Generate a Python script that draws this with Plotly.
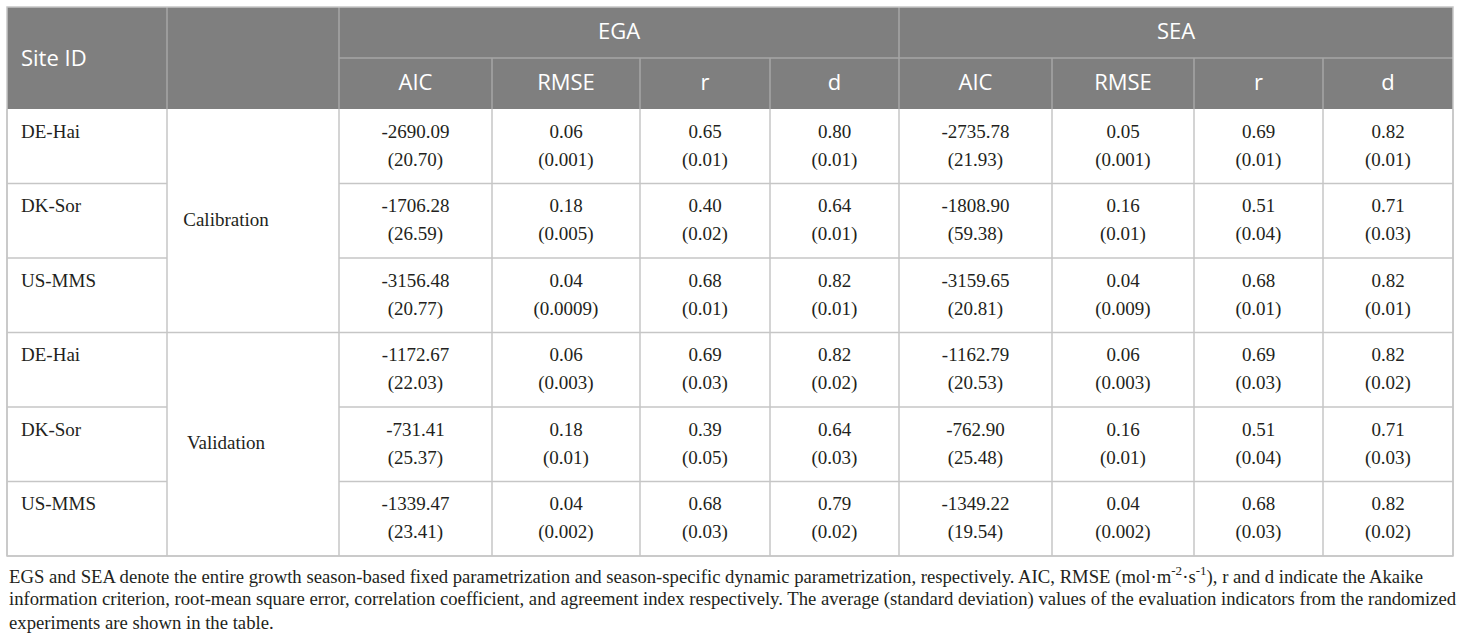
import plotly.graph_objects as go

# ---- table content ----
SITES = ["DE-Hai", "DK-Sor", "US-MMS", "DE-Hai", "DK-Sor", "US-MMS"]
PHASES = ["Calibration", "Validation"]
SCHEMES = ["EGA", "SEA"]
METRICS = ["AIC", "RMSE", "r", "d"]

# mean values per row (AIC, RMSE, r, d), kept as printed
ega_mean = [
    ["-2690.09", "0.06", "0.65", "0.80"],
    ["-1706.28", "0.18", "0.40", "0.64"],
    ["-3156.48", "0.04", "0.68", "0.82"],
    ["-1172.67", "0.06", "0.69", "0.82"],
    ["-731.41", "0.18", "0.39", "0.64"],
    ["-1339.47", "0.04", "0.68", "0.79"],
]
ega_sd = [
    ["20.70", "0.001", "0.01", "0.01"],
    ["26.59", "0.005", "0.02", "0.01"],
    ["20.77", "0.0009", "0.01", "0.01"],
    ["22.03", "0.003", "0.03", "0.02"],
    ["25.37", "0.01", "0.05", "0.03"],
    ["23.41", "0.002", "0.03", "0.02"],
]
sea_mean = [
    ["-2735.78", "0.05", "0.69", "0.82"],
    ["-1808.90", "0.16", "0.51", "0.71"],
    ["-3159.65", "0.04", "0.68", "0.82"],
    ["-1162.79", "0.06", "0.69", "0.82"],
    ["-762.90", "0.16", "0.51", "0.71"],
    ["-1349.22", "0.04", "0.68", "0.82"],
]
sea_sd = [
    ["21.93", "0.001", "0.01", "0.01"],
    ["59.38", "0.01", "0.04", "0.03"],
    ["20.81", "0.009", "0.01", "0.01"],
    ["20.53", "0.003", "0.03", "0.02"],
    ["25.48", "0.01", "0.04", "0.03"],
    ["19.54", "0.002", "0.03", "0.02"],
]

CAPTION = [
    "EGS and SEA denote the entire growth season-based fixed parametrization and season-specific dynamic "
    "parametrization, respectively. AIC, RMSE (mol·m<sup>-2</sup>·s<sup>-1</sup>), r and d indicate the Akaike",
    "information criterion, root-mean square error, correlation coefficient, and agreement index respectively. "
    "The average (standard deviation) values of the evaluation indicators from the randomized",
    "experiments are shown in the table.",
]

# ---- layout geometry (pixels) ----
W, H = 1460, 641
COL_EDGES = [7, 167, 339, 492, 640, 770, 899, 1052, 1194, 1323, 1453]
HEAD_TOP, HEAD_MID, HEAD_BOT = 7, 58, 109
ROW_H = 74.5
TABLE_BOT = HEAD_BOT + ROW_H * len(SITES)

HEAD_BG = "#7f7f7f"
HEAD_LINE = "#a6a6a6"
GRID = "#c6c6c6"
TXT = "#231f20"
SANS = "Open Sans"
SERIF = "Liberation Serif"

fig = go.Figure()

# header background
fig.add_shape(type="rect", x0=COL_EDGES[0], x1=COL_EDGES[-1], y0=HEAD_TOP, y1=HEAD_BOT,
              fillcolor=HEAD_BG, line=dict(width=0), layer="below")

# header inner lines
fig.add_shape(type="line", x0=COL_EDGES[2], x1=COL_EDGES[-1], y0=HEAD_MID, y1=HEAD_MID,
              line=dict(color=HEAD_LINE, width=1.5))
for i, xe in enumerate(COL_EDGES[1:-1], start=1):
    y0 = HEAD_TOP if i in (1, 2, 6) else HEAD_MID
    fig.add_shape(type="line", x0=xe, x1=xe, y0=y0, y1=HEAD_BOT,
                  line=dict(color=HEAD_LINE, width=1.5))

# body grid
row_edges = [HEAD_BOT + ROW_H * k for k in range(len(SITES) + 1)]
for k, ye in enumerate(row_edges[1:-1], start=1):
    # site column + data columns; phase column only split between groups
    fig.add_shape(type="line", x0=COL_EDGES[0], x1=COL_EDGES[1], y0=ye, y1=ye,
                  line=dict(color=GRID, width=1.5))
    fig.add_shape(type="line", x0=COL_EDGES[2], x1=COL_EDGES[-1], y0=ye, y1=ye,
                  line=dict(color=GRID, width=1.5))
    if k == 3:
        fig.add_shape(type="line", x0=COL_EDGES[1], x1=COL_EDGES[2], y0=ye, y1=ye,
                      line=dict(color=GRID, width=1.5))
for xe in COL_EDGES:
    fig.add_shape(type="line", x0=xe, x1=xe, y0=HEAD_BOT, y1=TABLE_BOT,
                  line=dict(color=GRID, width=1.5))
fig.add_shape(type="line", x0=COL_EDGES[0], x1=COL_EDGES[-1], y0=TABLE_BOT, y1=TABLE_BOT,
              line=dict(color=GRID, width=1.5))
fig.add_shape(type="rect", x0=COL_EDGES[0], x1=COL_EDGES[-1], y0=HEAD_TOP, y1=TABLE_BOT,
              line=dict(color=GRID, width=1.5))

# ---- header text ----
mid = lambda a, b: (a + b) / 2
fig.add_trace(go.Scatter(
    x=[COL_EDGES[0] + 14], y=[mid(HEAD_TOP, HEAD_BOT) + 2], mode="text",
    text=["Site ID"], textposition="middle right",
    textfont=dict(family=SANS, size=22, color="white"),
))
fig.add_trace(go.Scatter(
    x=[mid(COL_EDGES[2], COL_EDGES[6]), mid(COL_EDGES[6], COL_EDGES[10])],
    y=[mid(HEAD_TOP, HEAD_MID) + 1] * 2, mode="text",
    text=SCHEMES, textposition="middle center",
    textfont=dict(family=SANS, size=22, color="white"),
))
fig.add_trace(go.Scatter(
    x=[mid(COL_EDGES[j], COL_EDGES[j + 1]) for j in range(2, 10)],
    y=[mid(HEAD_MID, HEAD_BOT) + 1] * 8, mode="text",
    text=METRICS * 2, textposition="middle center",
    textfont=dict(family=SANS, size=22, color="white"),
))

# ---- body text ----
line1 = [row_edges[k] + 24 for k in range(len(SITES))]
line2 = [row_edges[k] + 52 for k in range(len(SITES))]

fig.add_trace(go.Scatter(
    x=[COL_EDGES[0] + 14] * len(SITES), y=line1, mode="text",
    text=SITES, textposition="middle right",
    textfont=dict(family=SERIF, size=19, color=TXT),
))
fig.add_trace(go.Scatter(
    x=[226, 226],
    y=[mid(row_edges[0], row_edges[3]), mid(row_edges[3], row_edges[6])],
    mode="text", text=PHASES, textposition="middle center",
    textfont=dict(family=SERIF, size=19, color=TXT),
))

for block, (means, sds) in enumerate([(ega_mean, ega_sd), (sea_mean, sea_sd)]):
    xs, ys, ts = [], [], []
    for r in range(len(SITES)):
        for j in range(4):
            c = 2 + block * 4 + j
            xc = mid(COL_EDGES[c], COL_EDGES[c + 1])
            xs += [xc, xc]
            ys += [line1[r], line2[r]]
            ts += [means[r][j], f"({sds[r][j]})"]
    fig.add_trace(go.Scatter(
        x=xs, y=ys, mode="text", text=ts, textposition="middle center",
        textfont=dict(family=SERIF, size=19, color=TXT),
    ))

# ---- caption ----
for i, line in enumerate(CAPTION):
    fig.add_annotation(
        x=COL_EDGES[0], y=TABLE_BOT + 19 + i * 23.5, xref="x", yref="y",
        text=line, showarrow=False, xanchor="left", yanchor="middle",
        font=dict(family=SERIF, size=18.7, color=TXT),
    )

fig.update_layout(
    width=W, height=H,
    margin=dict(l=0, r=0, t=0, b=0),
    paper_bgcolor="white", plot_bgcolor="white",
    showlegend=False, hovermode=False,
    xaxis=dict(range=[0, W], visible=False, fixedrange=True),
    yaxis=dict(range=[H, 0], visible=False, fixedrange=True),
)

# drop the page's default body margin so the figure sits at the window origin
fig.write_html("out.html", config={"displayModeBar": False},
               post_script="document.body.style.margin='0';")
